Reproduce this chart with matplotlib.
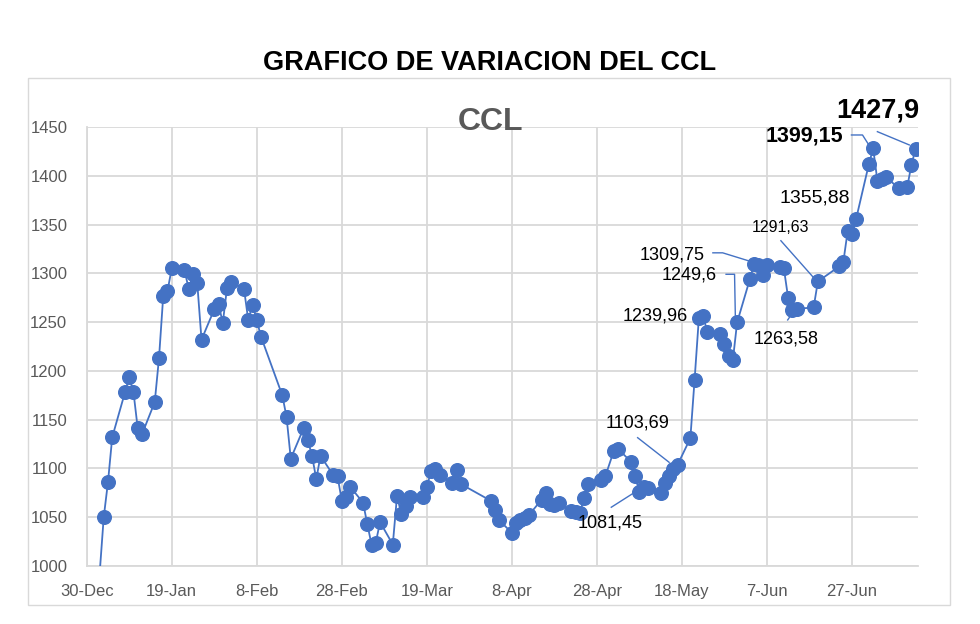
import matplotlib
matplotlib.use('Agg')
import matplotlib.pyplot as plt
import matplotlib.dates as mdates
from matplotlib.patches import Rectangle
import pandas as pd

plt.rcParams['font.family'] = ['Liberation Sans', 'DejaVu Sans']

# ── data ─────────────────────────────────────────────────────────────────
DATES = [
    '2024-01-02', '2024-01-03', '2024-01-04', '2024-01-05', '2024-01-08',
    '2024-01-09', '2024-01-10', '2024-01-11', '2024-01-12', '2024-01-15',
    '2024-01-16', '2024-01-17', '2024-01-18', '2024-01-19', '2024-01-22',
    '2024-01-23', '2024-01-24', '2024-01-25', '2024-01-26', '2024-01-29',
    '2024-01-30', '2024-01-31', '2024-02-01', '2024-02-02', '2024-02-05',
    '2024-02-06', '2024-02-07', '2024-02-08', '2024-02-09', '2024-02-14',
    '2024-02-15', '2024-02-16', '2024-02-19', '2024-02-20', '2024-02-21',
    '2024-02-22', '2024-02-23', '2024-02-26', '2024-02-27', '2024-02-28',
    '2024-02-29', '2024-03-01', '2024-03-04', '2024-03-05', '2024-03-06',
    '2024-03-07', '2024-03-08', '2024-03-11', '2024-03-12', '2024-03-13',
    '2024-03-14', '2024-03-15', '2024-03-18', '2024-03-19', '2024-03-20',
    '2024-03-21', '2024-03-22', '2024-03-25', '2024-03-26', '2024-03-27',
    '2024-04-03', '2024-04-04', '2024-04-05', '2024-04-08', '2024-04-09',
    '2024-04-10', '2024-04-11', '2024-04-12', '2024-04-15', '2024-04-16',
    '2024-04-17', '2024-04-18', '2024-04-19', '2024-04-22', '2024-04-23',
    '2024-04-24', '2024-04-25', '2024-04-26', '2024-04-29', '2024-04-30',
    '2024-05-02', '2024-05-03', '2024-05-06', '2024-05-07', '2024-05-08',
    '2024-05-09', '2024-05-10', '2024-05-13', '2024-05-14', '2024-05-15',
    '2024-05-16', '2024-05-17', '2024-05-20', '2024-05-21', '2024-05-22',
    '2024-05-23', '2024-05-24', '2024-05-27', '2024-05-28', '2024-05-29',
    '2024-05-30', '2024-05-31', '2024-06-03', '2024-06-04', '2024-06-05',
    '2024-06-06', '2024-06-07', '2024-06-10', '2024-06-11', '2024-06-12',
    '2024-06-13', '2024-06-14', '2024-06-18', '2024-06-19', '2024-06-24',
    '2024-06-25', '2024-06-26', '2024-06-27', '2024-06-28', '2024-07-01',
    '2024-07-02', '2024-07-03', '2024-07-04', '2024-07-05', '2024-07-08',
    '2024-07-10', '2024-07-11', '2024-07-12',
]
CCL = [
    990, 1050, 1086, 1132, 1178,
    1194, 1178, 1141, 1135, 1168,
    1213, 1277, 1282, 1305, 1303,
    1284, 1299, 1290, 1232, 1263,
    1269, 1249, 1285, 1291, 1284,
    1252, 1268, 1252, 1235, 1175,
    1153, 1110, 1141, 1129, 1113,
    1089, 1113, 1093, 1092, 1067,
    1071, 1081, 1065, 1043, 1022,
    1024, 1045, 1022, 1072, 1053,
    1061, 1071, 1071, 1081, 1097,
    1099, 1093, 1085, 1098, 1084,
    1067, 1057, 1047, 1034, 1044,
    1047, 1049, 1052, 1068, 1075,
    1064, 1062, 1065, 1056, 1055,
    1054, 1070, 1084, 1088, 1092,
    1118, 1120, 1107, 1092, 1076,
    1081.45, 1080, 1075, 1085, 1092,
    1099, 1103.69, 1131, 1191, 1254,
    1256, 1239.96, 1238, 1228, 1215,
    1211, 1249.6, 1294, 1309.75, 1309,
    1298, 1309, 1306, 1305, 1275,
    1262, 1263.58, 1265, 1291.63, 1307,
    1312, 1343, 1340, 1355.88, 1412,
    1428, 1395, 1397, 1399.15, 1387,
    1388, 1411, 1427.9,
]
TICK_LABELS = ['30-Dec', '19-Jan', '8-Feb', '28-Feb', '19-Mar',
               '8-Apr', '28-Apr', '18-May', '7-Jun', '27-Jun']
Y_TICKS = [1000, 1050, 1100, 1150, 1200, 1250, 1300, 1350, 1400, 1450]

BLUE = '#4472C4'
GRID = '#D9D9D9'
GREY_TXT = '#595959'

dates = pd.to_datetime(DATES)
start = pd.Timestamp('2023-12-30')
tick_dates = [start + pd.Timedelta(days=20 * i) for i in range(len(TICK_LABELS))]

fig = plt.figure(figsize=(9.8, 6.24), dpi=100)
ax = fig.add_axes([0.0885, 0.093, 0.848, 0.7035])

ax.plot(dates, CCL, color=BLUE, linewidth=1.3, marker='o', markersize=9.8,
        markerfacecolor=BLUE, markeredgecolor=BLUE, zorder=3)

ax.set_xlim(start, start + pd.Timedelta(days=195.5))
ax.set_ylim(1000, 1450)
ax.set_yticks(Y_TICKS)
ax.set_xticks(tick_dates)
ax.set_xticklabels(TICK_LABELS)
ax.grid(True, color=GRID, linewidth=1.3)
ax.set_axisbelow(True)
for side in ['top', 'right']:
    ax.spines[side].set_visible(False)
for side in ['left', 'bottom']:
    ax.spines[side].set_color(GRID)
    ax.spines[side].set_linewidth(1.3)
ax.tick_params(axis='both', length=0, labelsize=12, labelcolor=GREY_TXT)
ax.tick_params(axis='y', pad=14)
ax.tick_params(axis='x', pad=13)


def d(days):
    return start + pd.Timedelta(days=days)


# data labels: (text, x-days, y, fontsize, bold, leader path in (days, value))
LABELS = [
    ('1103,69', 129.6, 1146.6, 13, False, [(129.6, 1131.5), (137.0, 1106.3)]),
    ('1081,45', 123.2, 1044.0, 13, False, [(123.4, 1060.2), (128.3, 1073.8)]),
    ('1239,96', 133.8, 1256.3, 13, False, []),
    ('1249,6', 141.8, 1298.3, 13, False, [(150.4, 1299), (152.4, 1299), (152.6, 1252)]),
    ('1309,75', 137.8, 1318.8, 13, False, [(147.3, 1321), (149.6, 1321), (156.3, 1312)]),
    ('1263,58', 164.6, 1232.7, 13, False, [(164.9, 1252.2), (165.7, 1257.3)]),
    ('1291,63', 163.2, 1346.5, 11.5, False, [(163.3, 1333.4), (170.8, 1296.5)]),
    ('1355,88', 171.2, 1377.2, 14, False, []),
    ('1399,15', 168.8, 1440.8, 15.5, True, [(179.9, 1441.8), (182.5, 1441.8), (184.5, 1428.1)]),
    ('1427,9', 186.0, 1466.4, 19.5, True, [(186.0, 1445.2), (193.5, 1431.6)]),
]
for txt, tx, ty, fs, bold, path in LABELS:
    ax.text(d(tx), ty, txt, fontsize=fs, fontweight='bold' if bold else 'normal',
            ha='center', va='center', color='black', clip_on=False, zorder=5)
    if path:
        ax.plot([d(p[0]) for p in path], [p[1] for p in path], color=BLUE,
                linewidth=1.0, clip_on=False, zorder=2)

# chart title and series title
fig.text(0.5, 0.899, 'GRAFICO DE VARIACION DEL CCL', fontsize=19.5,
         fontweight='bold', ha='center', va='center')
fig.text(0.5, 0.804, 'CCL', fontsize=23, fontweight='bold', color=GREY_TXT,
         ha='center', va='center')

# chart area border
fig.patches.append(Rectangle((28 / 980, 1 - 605 / 624), (950 - 28) / 980,
                             (605 - 78) / 624, transform=fig.transFigure,
                             fill=False, edgecolor=GRID, linewidth=1.0))

fig.savefig('out.png', dpi=100)
